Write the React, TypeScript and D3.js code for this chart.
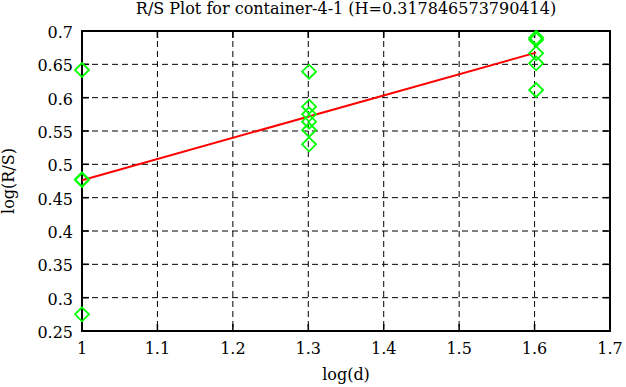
import React from "react";
import * as d3 from "d3";

const TITLE = "R/S Plot for container-4-1 (H=0.317846573790414)";
const X_LABEL = "log(d)";
const Y_LABEL = "log(R/S)";

// log10 of the window sizes
const groupX = [1, 1.30103, 1.60206];
// log(R/S) values for each group
const group1 = [0.6415, 0.4775, 0.4765, 0.275];
const group2 = [0.639, 0.5865, 0.575, 0.564, 0.5515, 0.53];
const group3 = [0.69, 0.687, 0.6665, 0.6515, 0.6115];
const groups = [group1, group2, group3];

const H = 0.317846573790414;
const intercept = 0.4762;
const fitX = [1, 1.60206];

const xTicks = [1, 1.1, 1.2, 1.3, 1.4, 1.5, 1.6, 1.7];
const yTicks = [0.25, 0.3, 0.35, 0.4, 0.45, 0.5, 0.55, 0.6, 0.65, 0.7];

const FONT = "DejaVu Serif, Liberation Serif, serif";

export default function App() {
  const W = 626, HGT = 387;
  const left = 82, right = 610, top = 31, bottom = 331;
  const x = d3.scaleLinear().domain([1, 1.7]).range([left, right]);
  const y = d3.scaleLinear().domain([0.25, 0.7]).range([bottom, top]);
  const ts = { fontFamily: FONT, fontSize: "16px" };

  const points: { x: number; y: number }[] = [];
  groups.forEach((g, i) => g.forEach((v) => points.push({ x: groupX[i], y: v })));

  const line = d3
    .line<number>()
    .x((d) => x(d))
    .y((d) => y(intercept + H * (d - 1)));

  const diamond = (cx: number, cy: number, r: number) =>
    `M${cx},${cy - r}L${cx + r},${cy}L${cx},${cy + r}L${cx - r},${cy}Z`;

  return (
    <svg
      width={W}
      height={HGT}
      style={{ position: "absolute", left: 0, top: 0, background: "#fff" }}
    >
      <rect x={0} y={0} width={W} height={HGT} fill="#fff" />
      {/* grid */}
      {xTicks.slice(1, -1).map((t) => (
        <line key={"gx" + t} x1={x(t)} x2={x(t)} y1={top} y2={bottom} stroke="#000" strokeWidth={1} strokeDasharray="6,4" />
      ))}
      {yTicks.slice(1, -1).map((t) => (
        <line key={"gy" + t} x1={left} x2={right} y1={y(t)} y2={y(t)} stroke="#000" strokeWidth={1} strokeDasharray="6,4" />
      ))}
      {/* ticks */}
      {xTicks.map((t) => (
        <g key={"tx" + t}>
          <line x1={x(t)} x2={x(t)} y1={bottom} y2={bottom - 7} stroke="#000" strokeWidth={1.5} />
          <line x1={x(t)} x2={x(t)} y1={top} y2={top + 7} stroke="#000" strokeWidth={1.5} />
          <text x={x(t)} y={bottom + 23} style={ts} textAnchor="middle" fill="#000">
            {d3.format("")(t)}
          </text>
        </g>
      ))}
      {yTicks.map((t) => (
        <g key={"ty" + t}>
          <line x1={left} x2={left + 7} y1={y(t)} y2={y(t)} stroke="#000" strokeWidth={1.5} />
          <line x1={right} x2={right - 7} y1={y(t)} y2={y(t)} stroke="#000" strokeWidth={1.5} />
          <text x={73} y={y(t) + 7} style={ts} textAnchor="end" fill="#000">
            {d3.format("")(+t.toFixed(2))}
          </text>
        </g>
      ))}
      {/* border */}
      <rect x={left} y={top} width={right - left} height={bottom - top} fill="none" stroke="#000" strokeWidth={2} />
      {/* fit line */}
      <path d={line(fitX) || ""} fill="none" stroke="#ff0000" strokeWidth={2} />
      {/* points */}
      {points.map((p, i) => (
        <path key={"p" + i} d={diamond(x(p.x), y(p.y), 7)} fill="none" stroke="#00ff00" strokeWidth={1.8} />
      ))}
      {/* labels */}
      <text x={(left + right) / 2} y={14} style={ts} textAnchor="middle" fill="#000">
        {TITLE}
      </text>
      <text x={(left + right) / 2} y={380} style={ts} textAnchor="middle" fill="#000">
        {X_LABEL}
      </text>
      <text
        transform={`translate(14,${(top + bottom) / 2}) rotate(-90)`}
        style={ts}
        textAnchor="middle"
        fill="#000"
      >
        {Y_LABEL}
      </text>
    </svg>
  );
}
